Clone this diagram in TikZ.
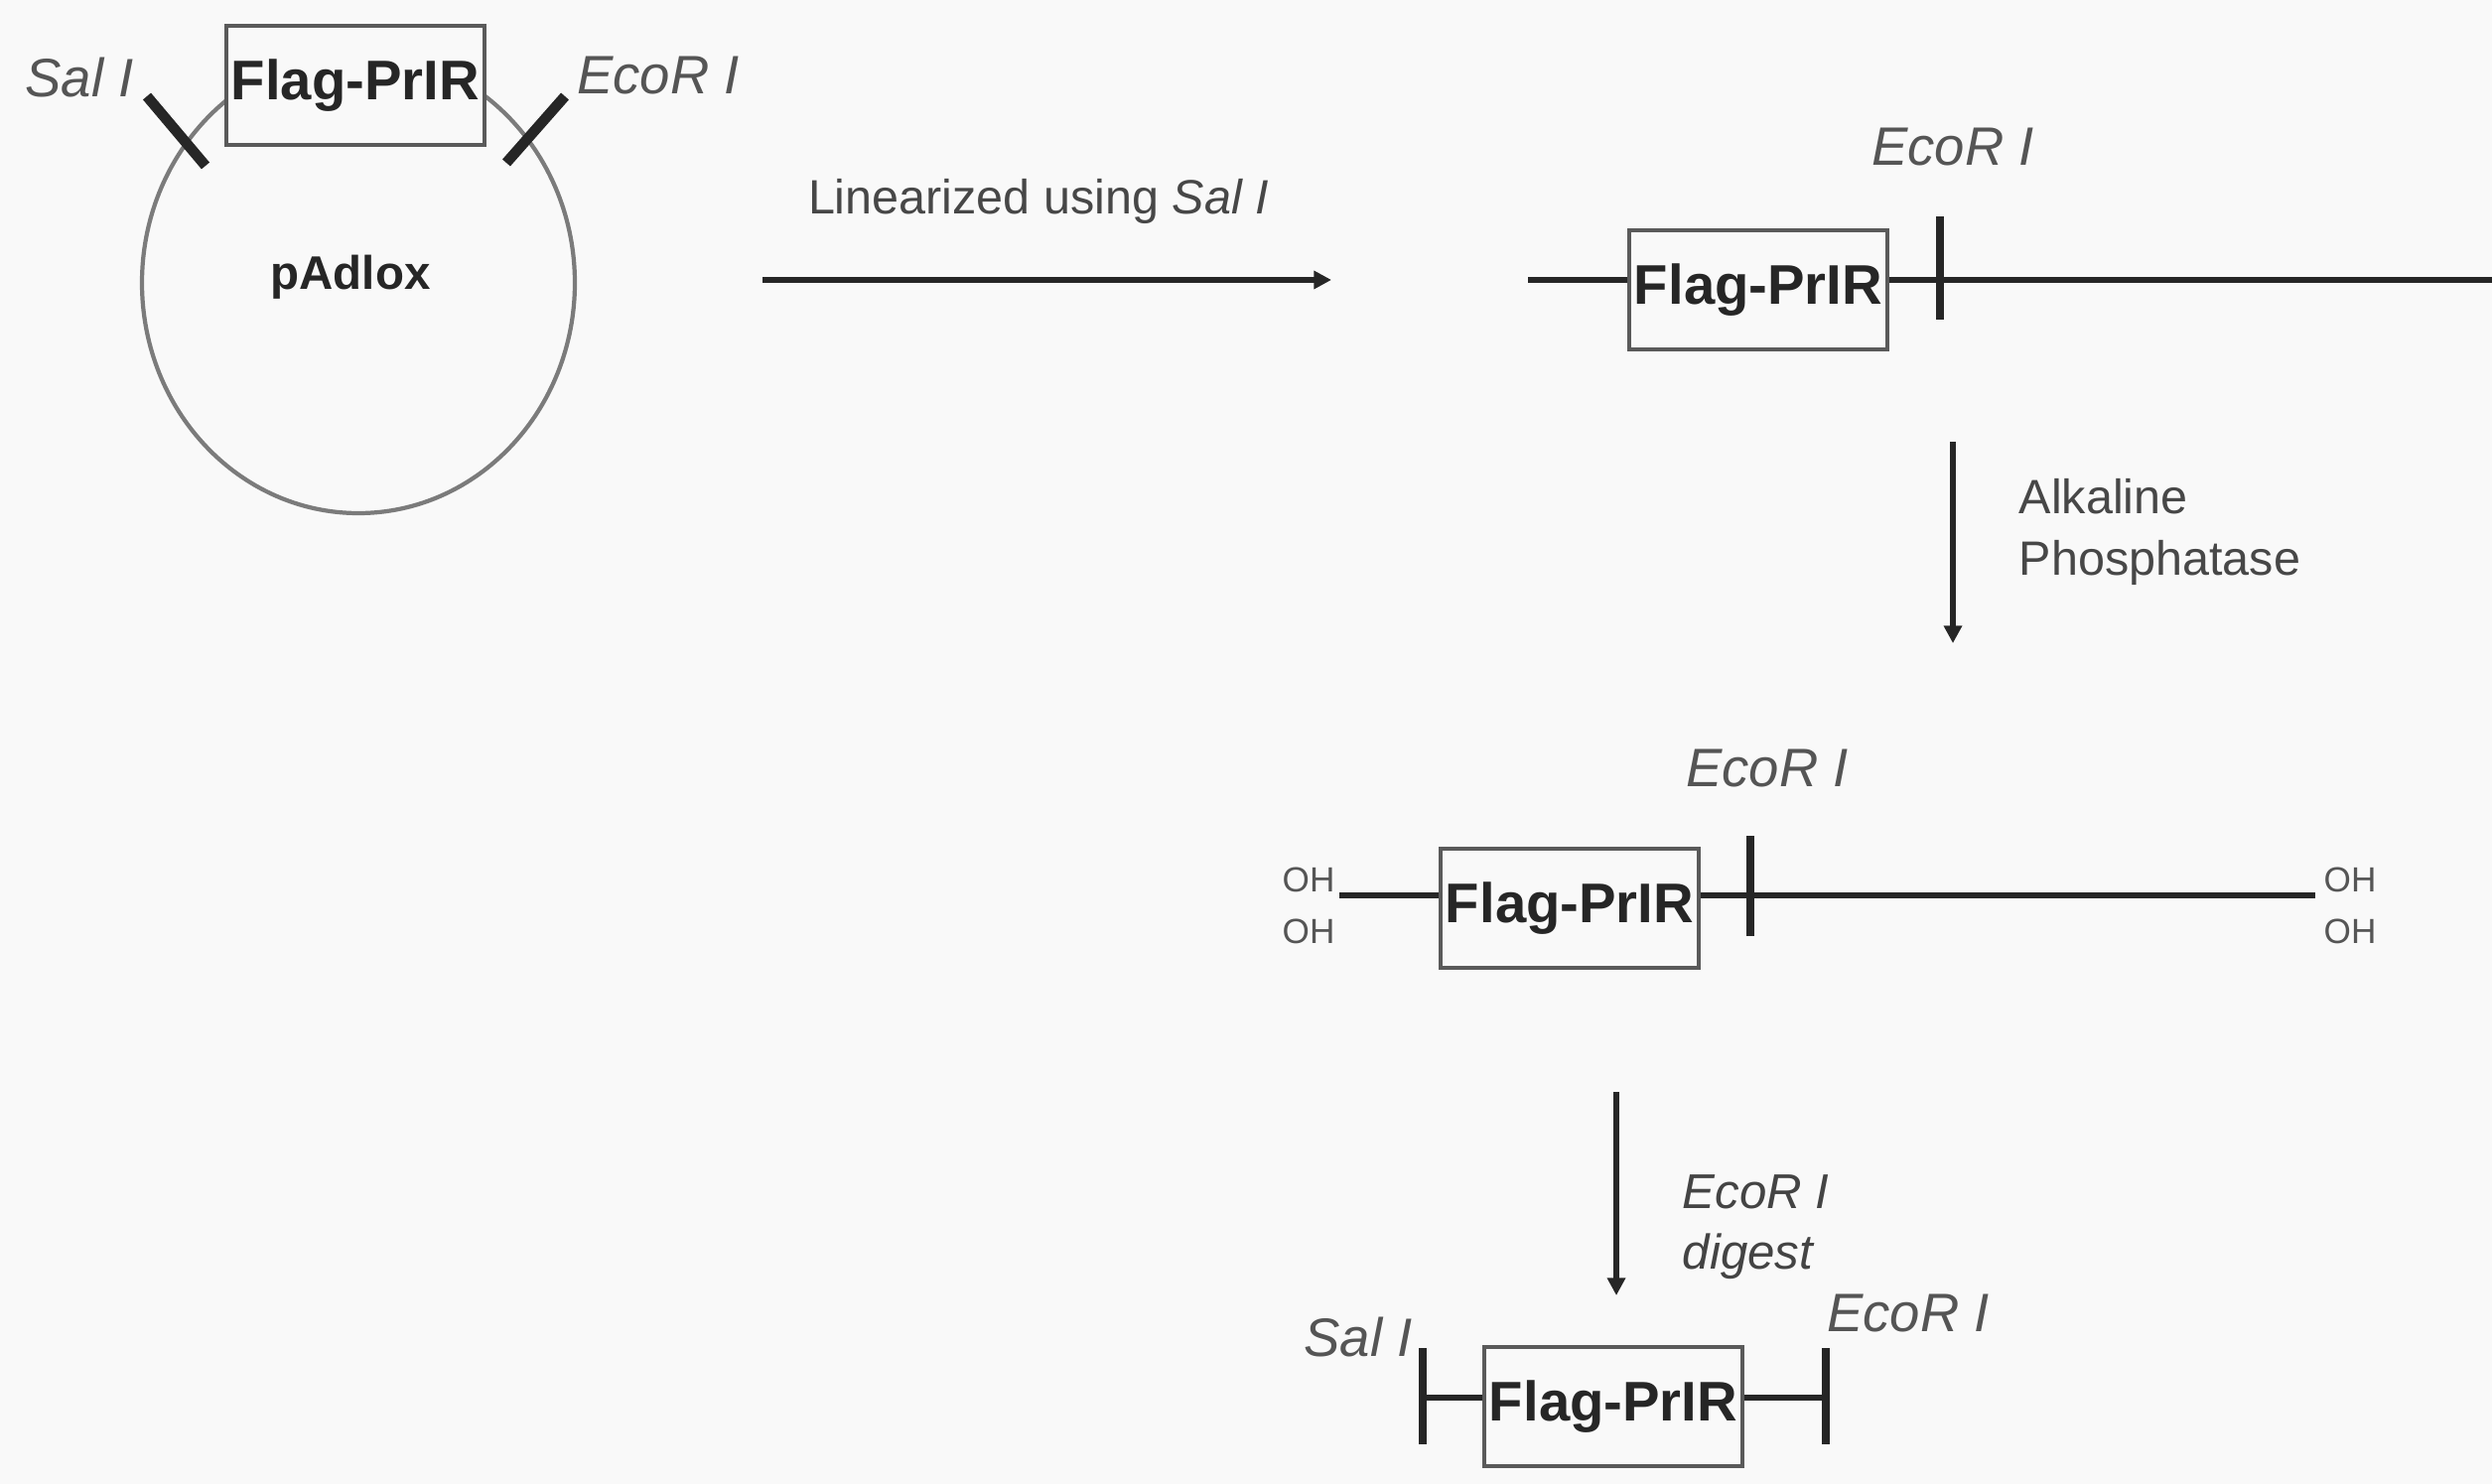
\documentclass[tikz,border=0pt]{standalone}
\usepackage{fontspec}
\setmainfont{Liberation Sans}
\usetikzlibrary{arrows.meta}
\definecolor{bgc}{HTML}{F9F9F9}
\definecolor{labc}{HTML}{555555}
\definecolor{inkc}{HTML}{262626}
\definecolor{boxc}{HTML}{5A5A5A}
\tikzset{
  genebox/.style={draw=boxc, line width=1.2pt, fill=bgc, minimum width=2.6cm, minimum height=1.2cm, inner sep=0pt,
    font=\fontsize{16}{18}\selectfont\bfseries, text=inkc},
  enzlabel/.style={font=\fontsize{15.5}{18}\selectfont\itshape, text=labc, inner sep=0pt},
  ohlabel/.style={font=\fontsize{10}{12}\selectfont, text=labc, inner sep=0pt},
  steplabel/.style={font=\fontsize{13.8}{17.5}\selectfont, text=inkc!85, inner sep=0pt, align=left},
  dna/.style={draw=inkc, line width=1.8pt},
  cutmark/.style={draw=inkc, line width=2.4pt},
  plasmidcut/.style={draw=inkc, line width=3pt},
  proc/.style={draw=inkc, line width=1.5pt, -{Triangle[width=5pt,length=5pt]}},
}
\begin{document}
\begin{tikzpicture}[x=0.01cm,y=-0.01cm]
\fill[bgc] (0,0) rectangle (2510,1495);
\useasboundingbox (0,0) rectangle (2510,1495);

% ---------- plasmid ----------
\draw[draw=boxc!80, line width=1.2pt] (361,285) ellipse [x radius=218, y radius=232];
\node[genebox] (box1) at (358,86) {Flag-PrIR};
\coordinate (s1a) at (148,97);  \coordinate (s1b) at (207,167);
\coordinate (e1a) at (510,164); \coordinate (e1b) at (569,97);
\draw[plasmidcut] (s1a) -- (s1b);
\draw[plasmidcut] (e1a) -- (e1b);
\node[enzlabel] (sal1) at (80,78) {Sal I};
\node[enzlabel] (eco1) at (663,76) {EcoR I};
\node[font=\fontsize{13.5}{16}\selectfont\bfseries, text=inkc, inner sep=0pt] (pad) at (353,279) {pAdlox};

% ---------- step 1 arrow ----------
\coordinate (a1s) at (768,282); \coordinate (a1e) at (1341,282);
\draw[proc] (a1s) -- (a1e);
\node[steplabel] (lin) at (1046,203) {Linearized using \textit{Sal I}};

% ---------- linear DNA 1 ----------
\coordinate (l2a) at (1539,282); \coordinate (l2b) at (2510,282);
\draw[dna] (l2a) -- (l2b);
\node[genebox] (box2) at (1771,292) {Flag-PrIR};
\coordinate (t2a) at (1954,218); \coordinate (t2b) at (1954,322);
\draw[cutmark] (t2a) -- (t2b);
\node[enzlabel] (eco2) at (1967,148) {EcoR I};

% ---------- step 2 arrow ----------
\coordinate (a2s) at (1967,445); \coordinate (a2e) at (1967,648);
\draw[proc] (a2s) -- (a2e);
\node[steplabel, anchor=west] (alk) at (2033,536) {Alkaline\\Phosphatase};

% ---------- linear DNA 2 ----------
\coordinate (l3a) at (1349,902); \coordinate (l3b) at (2332,902);
\draw[dna] (l3a) -- (l3b);
\node[genebox] (box3) at (1581,915) {Flag-PrIR};
\coordinate (t3a) at (1763,842); \coordinate (t3b) at (1763,943);
\draw[cutmark] (t3a) -- (t3b);
\node[enzlabel] (eco3) at (1780,774) {EcoR I};
\node[ohlabel] (oh1) at (1318,886) {OH};
\node[ohlabel] (oh2) at (1318,938) {OH};
\node[ohlabel] (oh3) at (2367,886) {OH};
\node[ohlabel] (oh4) at (2367,938) {OH};

% ---------- step 3 arrow ----------
\coordinate (a3s) at (1628,1100); \coordinate (a3e) at (1628,1305);
\draw[proc] (a3s) -- (a3e);
\node[steplabel, anchor=west, font=\fontsize{14}{17.5}\selectfont\itshape, text=labc!80!black] (dig) at (1694,1236) {EcoR I\\digest};

% ---------- fragment ----------
\coordinate (l4a) at (1433,1408); \coordinate (l4b) at (1839,1408);
\draw[dna] (l4a) -- (l4b);
\node[genebox] (box4) at (1625,1417) {Flag-PrIR};
\coordinate (t4a) at (1433,1358); \coordinate (t4b) at (1433,1455);
\coordinate (t5a) at (1839,1358); \coordinate (t5b) at (1839,1455);
\draw[cutmark] (t4a) -- (t4b);
\draw[cutmark] (t5a) -- (t5b);
\node[enzlabel] (sal4) at (1368,1347) {Sal I};
\node[enzlabel] (eco4) at (1922,1323) {EcoR I};
\end{tikzpicture}
\end{document}
